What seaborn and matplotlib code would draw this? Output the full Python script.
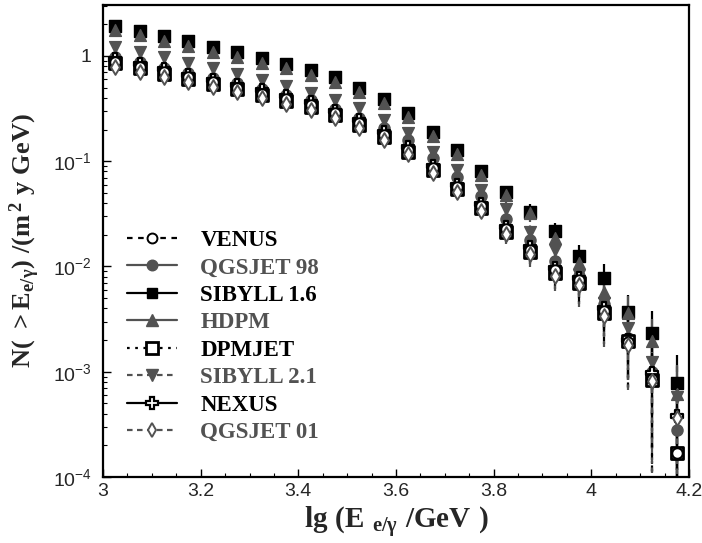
import numpy as np
import pandas as pd
import matplotlib
matplotlib.use("Agg")
import matplotlib.pyplot as plt
from matplotlib.lines import Line2D
import matplotlib.ticker as mticker
import seaborn as sns

# ---------------- data ----------------
lgE = [3.025, 3.075, 3.125, 3.175, 3.225, 3.275, 3.325, 3.375, 3.425, 3.475, 3.525, 3.575,
       3.625, 3.675, 3.725, 3.775, 3.825, 3.875, 3.925, 3.975, 4.025, 4.075, 4.125, 4.175]

venus = [0.88, 0.79, 0.70, 0.625, 0.56, 0.50, 0.44, 0.39, 0.34, 0.285, 0.23, 0.178,
         0.128, 0.086, 0.057, 0.0375, 0.0225, 0.0145, 0.0092, 0.0074, 0.0038, 0.0019, 0.00086, 0.00017]
qgsjet98 = [0.98, 0.88, 0.775, 0.695, 0.62, 0.555, 0.49, 0.43, 0.38, 0.315, 0.26, 0.205,
            0.16, 0.107, 0.071, 0.047, 0.0285, 0.0179, 0.0113, 0.0082, 0.0044, 0.0021, 0.00100, 0.00028]
sibyll16 = [1.94, 1.74, 1.55, 1.38, 1.22, 1.08, 0.95, 0.84, 0.74, 0.63, 0.50, 0.39,
            0.29, 0.191, 0.128, 0.0814, 0.0514, 0.0332, 0.0215, 0.0126, 0.0078, 0.0037, 0.00233, 0.00078]
hdpm = [1.77, 1.58, 1.40, 1.24, 1.10, 0.985, 0.863, 0.764, 0.660, 0.570, 0.458, 0.356,
        0.262, 0.174, 0.117, 0.0741, 0.0479, 0.0321, 0.0187, 0.0108, 0.00578, 0.0036, 0.00194, 0.00062]
dpmjet = [0.853, 0.764, 0.674, 0.605, 0.542, 0.483, 0.427, 0.376, 0.330, 0.275, 0.221, 0.171,
          0.123, 0.0826, 0.0546, 0.0360, 0.0214, 0.0138, 0.0087, 0.0070, 0.0036, 0.00194, 0.00084, 0.00017]
sibyll21 = [1.22, 1.10, 0.972, 0.853, 0.764, 0.674, 0.592, 0.519, 0.448, 0.382, 0.321, 0.247,
            0.184, 0.123, 0.0826, 0.0533, 0.0352, 0.0214, 0.0144, 0.0083, 0.0045, 0.0026, 0.00125, 0.00058]
nexus = [0.94, 0.84, 0.745, 0.665, 0.595, 0.53, 0.47, 0.415, 0.365, 0.303, 0.245, 0.19,
         0.137, 0.091, 0.060, 0.0395, 0.0238, 0.0154, 0.0097, 0.0077, 0.0040, 0.0020, 0.00098, 0.00038]
qgsjet01 = [0.79, 0.71, 0.63, 0.565, 0.505, 0.45, 0.40, 0.35, 0.307, 0.258, 0.207, 0.16,
            0.116, 0.078, 0.051, 0.0338, 0.0202, 0.0130, 0.0082, 0.0066, 0.0034, 0.0018, 0.00082, 0.00036]

# relative statistical error per energy bin
rel_err = [0.02, 0.02, 0.02, 0.02, 0.025, 0.025, 0.03, 0.03, 0.035, 0.04, 0.045, 0.05,
           0.06, 0.07, 0.09, 0.11, 0.14, 0.17, 0.21, 0.27, 0.35, 0.45, 0.62, 0.85]

models = ["VENUS", "QGSJET 98", "SIBYLL 1.6", "HDPM", "DPMJET", "SIBYLL 2.1", "NEXUS", "QGSJET 01"]
values = {"VENUS": venus, "QGSJET 98": qgsjet98, "SIBYLL 1.6": sibyll16, "HDPM": hdpm,
          "DPMJET": dpmjet, "SIBYLL 2.1": sibyll21, "NEXUS": nexus, "QGSJET 01": qgsjet01}
err_scale = {"VENUS": 1.4, "QGSJET 98": 1.3, "SIBYLL 1.6": 1.0, "HDPM": 1.0,
             "DPMJET": 1.4, "SIBYLL 2.1": 1.1, "NEXUS": 1.3, "QGSJET 01": 1.4}

# ---------------- styles ----------------
BLACK = "#000000"
GRAY = "#525252"
styles = {
    "VENUS":      dict(marker="o", color=BLACK, face="white", ls=(0, (2.5, 2.5)), ms=7.5, mew=1.4),
    "QGSJET 98":  dict(marker="o", color=GRAY, face=GRAY, ls="-", ms=8, mew=1.0),
    "SIBYLL 1.6": dict(marker="s", color=BLACK, face=BLACK, ls="-", ms=8, mew=1.0),
    "HDPM":       dict(marker="^", color=GRAY, face=GRAY, ls="-", ms=8.5, mew=1.0),
    "DPMJET":     dict(marker="s", color=BLACK, face="white", ls=(0, (1.2, 2.5)), ms=9, mew=2.0),
    "SIBYLL 2.1": dict(marker="v", color=GRAY, face=GRAY, ls=(0, (2.5, 2.0)), ms=8.5, mew=1.0),
    "NEXUS":      dict(marker="P", color=BLACK, face="white", ls="-", ms=9, mew=1.6),
    "QGSJET 01":  dict(marker="d", color=GRAY, face="white", ls=(0, (2.5, 2.0)), ms=7.5, mew=1.4),
}
draw_order = ["SIBYLL 1.6", "HDPM", "SIBYLL 2.1", "QGSJET 98", "NEXUS", "DPMJET", "VENUS", "QGSJET 01"]

# ---------------- figure ----------------
sns.set_style("ticks")
plt.rcParams["font.family"] = ["Liberation Sans", "DejaVu Sans"]
plt.rcParams["mathtext.fontset"] = "custom"
plt.rcParams["mathtext.rm"] = "Liberation Serif:bold"
plt.rcParams["mathtext.it"] = "Liberation Serif:bold"
plt.rcParams["mathtext.bf"] = "Liberation Serif:bold"
plt.rcParams["mathtext.sf"] = "Liberation Sans"

fig = plt.figure(figsize=(7.02, 5.43), dpi=100)
ax = fig.add_axes([103 / 702, 66 / 543, 586 / 702, 472 / 543])
ax.set_yscale("log")

x = np.array(lgE)
frac = np.array(rel_err)
for name in draw_order:
    st = styles[name]
    y = np.array(values[name])
    f = frac * err_scale[name]
    lower = np.minimum(f, 0.995) * y
    upper = f * y
    cont = ax.errorbar(x, y, yerr=[lower, upper], fmt="none", ecolor=st["color"],
                       elinewidth=1.6, capsize=0, zorder=2)
    for lc in cont[2]:
        lc.set_linestyle(st["ls"])
    df = pd.DataFrame({"lgE": x, "N": y})
    sns.scatterplot(data=df, x="lgE", y="N", ax=ax, marker=st["marker"], s=st["ms"] ** 2,
                    color=st["color"], facecolor=st["face"], edgecolor=st["color"],
                    linewidth=st["mew"], zorder=3, legend=False)

ax.set_xlim(3.0, 4.2)
ax.set_ylim(1e-4, 3.05)
ax.set_xticks([3.0, 3.2, 3.4, 3.6, 3.8, 4.0, 4.2])
ax.set_xticklabels(["3", "3.2", "3.4", "3.6", "3.8", "4", "4.2"])
ax.xaxis.set_minor_locator(mticker.MultipleLocator(0.05))
ax.set_yticks([1e-4, 1e-3, 1e-2, 1e-1, 1])
ax.set_yticklabels([r"$\mathsf{10^{-4}}$", r"$\mathsf{10^{-3}}$", r"$\mathsf{10^{-2}}$",
                    r"$\mathsf{10^{-1}}$", r"$\mathsf{1}$"])
ax.yaxis.set_minor_locator(mticker.LogLocator(base=10, subs=np.arange(2, 10)))
ax.yaxis.set_minor_formatter(mticker.NullFormatter())
ax.tick_params(which="both", direction="in", top=False, right=False, labelsize=14, color="black")
ax.tick_params(which="major", length=6, width=1.0)
ax.tick_params(which="minor", length=3, width=0.8)
ax.tick_params(axis="y", pad=8)
ax.tick_params(axis="x", pad=4)
for sp in ax.spines.values():
    sp.set_visible(True)
    sp.set_linewidth(1.6)
    sp.set_color("black")

ax.set_xlabel(r"$\mathrm{lg\ (E\ _{e/\gamma}\ /GeV\ )}$", fontsize=21, labelpad=4)
ax.set_ylabel(r"$\mathrm{N(\ >E_{e/\gamma})\ /(m^{\,2}\ y\ GeV)}$", fontsize=19, labelpad=8)

# legend
handles = []
for name in models:
    st = styles[name]
    handles.append(Line2D([0], [0], color=st["color"], ls=st["ls"], lw=1.6, marker=st["marker"],
                          markersize=st["ms"] * 0.95, markerfacecolor=st["face"],
                          markeredgecolor=st["color"], markeredgewidth=st["mew"]))
leg = ax.legend(handles, models, loc="upper left", bbox_to_anchor=(127 / 702, 1 - 230 / 543),
                bbox_transform=fig.transFigure, frameon=False, borderpad=0, borderaxespad=0,
                handlelength=2.2, handletextpad=1.0, labelspacing=0.28,
                prop={"family": "Liberation Serif", "weight": "bold", "size": 16.5})
for txt, name in zip(leg.get_texts(), models):
    txt.set_color(styles[name]["color"])

fig.savefig("out.png", dpi=100)
